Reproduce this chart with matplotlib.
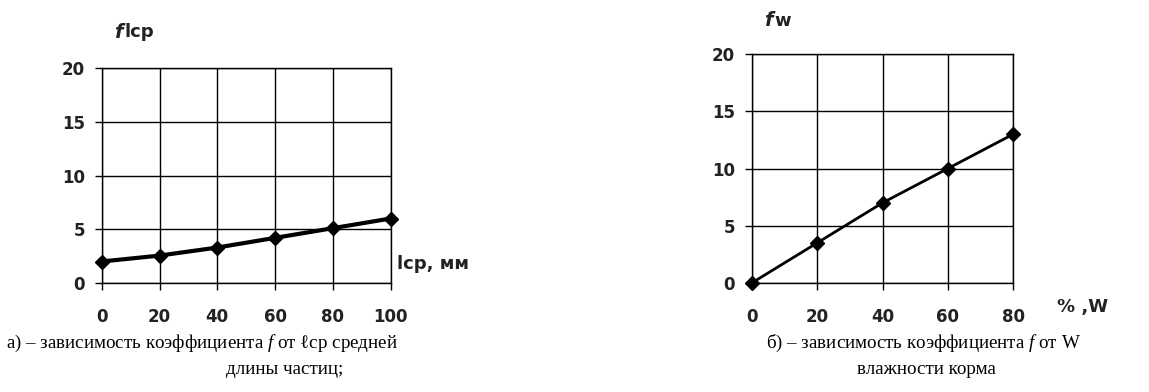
import matplotlib
matplotlib.use('Agg')
import matplotlib.pyplot as plt

# left panel: f vs mean particle length
len_x = [0, 20, 40, 60, 80, 100]
len_f = [2.0, 2.55, 3.3, 4.2, 5.1, 6.0]

# right panel: f vs feed moisture
wet_x = [0, 20, 40, 60, 80]
wet_f = [0.0, 3.5, 7.0, 10.0, 13.0]

y_ticks = [0, 5, 10, 15, 20]

W, H = 1149, 392

plt.rcParams['mathtext.fontset'] = 'custom'
plt.rcParams['mathtext.rm'] = 'Liberation Serif'
plt.rcParams['mathtext.it'] = 'Liberation Serif:italic'


def px(x, y):
  # pixel coords (top-left origin) -> figure fraction
  return x / W, 1 - y / H


def style_axes(ax, xt):
  ax.set_xticks(xt)
  ax.set_yticks(y_ticks)
  ax.set_xlim(xt[0], xt[-1])
  ax.set_ylim(0, 20)
  ax.grid(True, color='black', linewidth=1.0)
  for s in ax.spines.values():
    s.set_linewidth(1.0)
  ax.tick_params(direction='out', length=5, width=1, colors='black')
  ax.tick_params(axis='x', pad=13)
  ax.tick_params(axis='y', pad=7)
  for lab in ax.get_xticklabels() + ax.get_yticklabels():
    lab.set_family('DejaVu Sans')
    lab.set_fontweight('bold')
    lab.set_fontsize(12)
    lab.set_color('#222222')


fig = plt.figure(figsize=(W / 100, H / 100), dpi=100)

# axes placed to match the reference pixel boxes
ax1 = fig.add_axes([101.7 / W, 1 - 283 / H, 289 / W, 215 / H])
ax2 = fig.add_axes([751.7 / W, 1 - 283 / H, 261.6 / W, 229 / H])

ax1.plot(len_x, len_f, color='black', linewidth=3.0, marker='D', markersize=7, clip_on=False, zorder=5)
ax2.plot(wet_x, wet_f, color='black', linewidth=2.0, marker='D', markersize=7, clip_on=False, zorder=5)

style_axes(ax1, len_x)
style_axes(ax2, wet_x)

bold = dict(family='DejaVu Sans', fontweight='bold', fontsize=13, color='#222222', va='center')

# axis names
fig.text(*px(114, 32), 'f', style='italic', **{**bold, 'fontsize': 14})
fig.text(*px(124, 32), 'lcp', **bold)
fig.text(*px(397, 264), 'lcp, мм', **bold)
fig.text(*px(764, 21), 'f', style='italic', **{**bold, 'fontsize': 14})
fig.text(*px(774, 21), 'w', **bold)
fig.text(*px(1057, 307), '% ,W', **bold)

cap = dict(family='Liberation Serif', fontsize=13.7, color='black', ha='center', va='center')
fig.text(*px(202, 343), 'а) – зависимость коэффициента $f$ от ℓcp средней', **cap)
fig.text(*px(285, 369), 'длины частиц;', **cap)
fig.text(*px(923, 343), 'б) – зависимость коэффициента $f$ от W', **cap)
fig.text(*px(926, 369), 'влажности корма', **cap)

fig.savefig('out.png', dpi=100, facecolor='white')
